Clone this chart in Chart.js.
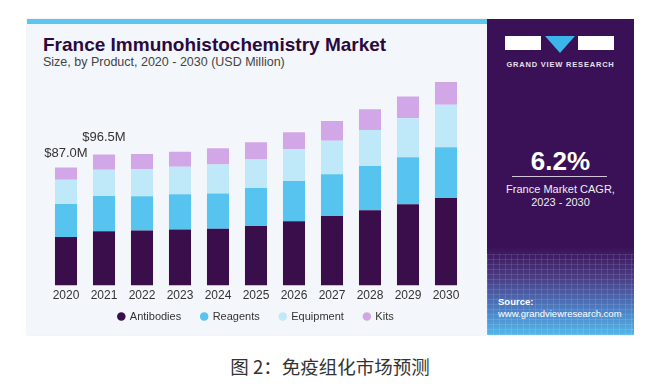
<!DOCTYPE html>
<html>
<head>
<meta charset="utf-8">
<script src="https://cdn.jsdelivr.net/npm/chart.js@4.4.1/dist/chart.umd.min.js"></script>
<style>
  body { margin: 0; background: #fff; width: 650px; height: 386px; position: relative; overflow: hidden; font-family: "Liberation Sans", Arial, sans-serif; }
  #card { position: absolute; left: 27px; top: 19px; width: 460px; height: 316px; background: #f3f6fa; border-top: 5px solid #5cc7ee; box-sizing: border-box; box-shadow: 0 0 1px rgba(0,0,0,0.25); }
  #title { position: absolute; left: 43px; top: 34px; font-size: 19px; font-weight: bold; color: #2a0a3e; }
  #subtitle { position: absolute; left: 43px; top: 55px; font-size: 12.5px; color: #444; }
  #wrap { position: absolute; left: 27px; top: 75px; width: 460px; height: 272px; }
  #panel { position: absolute; left: 487px; top: 19px; width: 147px; height: 316px; overflow: hidden;
    background: linear-gradient(to bottom, #3a1156 0%, #3a1156 72%, #4a3d86 82%, #4c7fc4 92%, #52b8ea 100%); color: #fff; }
  #grid { position: absolute; left: 0; top: 235px; width: 147px; height: 81px;
    background-image: repeating-linear-gradient(to bottom, rgba(255,255,255,0.10) 0 1px, transparent 1px 5px),
                      repeating-linear-gradient(to right, rgba(255,255,255,0.10) 0 1px, transparent 1px 6px); }
  .logo { position: absolute; top: 17px; height: 14px; background: #fff; }
  #tri { position: absolute; left: 58px; top: 17px; width: 0; height: 0; border-left: 15px solid transparent; border-right: 15px solid transparent; border-top: 17px solid #3bb6ea; }
  #gvr { position: absolute; left: 0; width: 147px; top: 41px; text-align: center; font-size: 7.5px; font-weight: bold; letter-spacing: 0.8px; color: #e6e0ee; }
  #cagr { position: absolute; left: 0; width: 147px; top: 127px; text-align: center; font-size: 26px; font-weight: bold; }
  #line { position: absolute; left: 25px; width: 95px; top: 157px; height: 1px; background: #cfc6dc; }
  #cagrtxt { position: absolute; left: 0; width: 147px; top: 164px; text-align: center; font-size: 11px; line-height: 13px; color: #eee; }
  #src { position: absolute; left: 11px; top: 277px; font-size: 9.5px; line-height: 12px; color: #fff; }
  #caption { position: absolute; left: 0; width: 660px; top: 355px; text-align: center; font-family: "Noto Sans CJK SC", sans-serif; font-size: 18.5px; line-height: 22px; color: #333; }
</style>
</head>
<body>
<div id="card"></div>
<div id="title">France Immunohistochemistry Market</div>
<div id="subtitle">Size, by Product, 2020 - 2030 (USD Million)</div>
<div id="wrap"><canvas id="myChart"></canvas></div>
<div id="panel">
  <div id="grid"></div>
  <div class="logo" style="left:18px;width:36px;"></div>
  <div id="tri"></div>
  <div class="logo" style="left:91px;width:36px;"></div>
  <div id="gvr">GRAND VIEW RESEARCH</div>
  <div id="cagr">6.2%</div>
  <div id="line"></div>
  <div id="cagrtxt">France Market CAGR,<br>2023 - 2030</div>
  <div id="src"><b>Source:</b><br>www.grandviewresearch.com</div>
</div>
<div id="caption">图 2：免疫组化市场预测</div>
<script>
const years = ['2020', '2021', '2022', '2023', '2024', '2025', '2026', '2027', '2028', '2029', '2030'];
const antibodies = [35.8, 40.0, 40.6, 41.2, 41.9, 43.8, 47.3, 51.2, 55.4, 59.9, 64.5];
const reagents = [24.3, 25.9, 25.1, 26.1, 25.9, 28.1, 29.6, 30.8, 32.7, 34.5, 37.3];
const equipment = [17.8, 19.3, 20.0, 20.2, 21.4, 21.0, 23.4, 24.6, 26.4, 28.8, 31.3];
const kits = [9.1, 11.3, 11.1, 11.1, 11.8, 12.6, 12.6, 14.6, 15.3, 16.0, 16.8];
const totalLabels = ['$87.0M', '$96.5M', '', '', '', '', '', '', '', '', ''];

const FONT = '"Liberation Sans", Arial, sans-serif';

// labels over the first two stacks (second one sits a bit higher)
const labelLift = [7, 11];
const totalsPlugin = {
    id: 'totals',
    afterDatasetsDraw(chart) {
        const ctx = chart.ctx;
        const top = chart.getDatasetMeta(chart.data.datasets.length - 1);
        ctx.save();
        ctx.font = '13px ' + FONT;
        ctx.fillStyle = '#333';
        ctx.textAlign = 'center';
        ctx.textBaseline = 'bottom';
        totalLabels.forEach((txt, i) => {
            if (!txt) return;
            const bar = top.data[i];
            ctx.fillText(txt, bar.x, bar.y - (labelLift[i] || 7));
        });
        ctx.restore();
    }
};

// legend padding also sets its vertical gap, pull it up closer to the ticks
const legendLift = {
    id: 'legendLift',
    afterLayout(chart) {
        chart.legend.top -= 15;
        chart.legend.bottom -= 15;
    }
};

const ctx = document.getElementById('myChart');
const myChart = new Chart(ctx, {
    type: 'bar',
    data: {
        labels: years,
        datasets: [
            { label: 'Antibodies', data: antibodies, backgroundColor: '#3a0e4b' },
            { label: 'Reagents', data: reagents, backgroundColor: '#56c4ef' },
            { label: 'Equipment', data: equipment, backgroundColor: '#bfe8f8' },
            { label: 'Kits', data: kits, backgroundColor: '#d2a7e8' }
        ]
    },
    options: {
        responsive: true,
        maintainAspectRatio: false,
        animation: false,
        layout: { padding: { left: 20, right: 22, top: 0, bottom: 0 } },
        datasets: { bar: { categoryPercentage: 1, barPercentage: 0.58 } },
        plugins: {
            legend: {
                position: 'bottom',
                labels: {
                    usePointStyle: true,
                    pointStyle: 'circle',
                    boxWidth: 6,
                    boxHeight: 6,
                    padding: 20,
                    color: '#333',
                    font: { size: 11, family: FONT }
                }
            },
            tooltip: { enabled: false }
        },
        scales: {
            x: {
                stacked: true,
                grid: { display: false, drawTicks: false },
                border: { display: false },
                ticks: { color: '#333', padding: 3, font: { size: 12, family: FONT } }
            },
            y: {
                stacked: true,
                display: false,
                min: 0,
                max: 155
            }
        }
    },
    plugins: [totalsPlugin, legendLift]
});
</script>
</body>
</html>
